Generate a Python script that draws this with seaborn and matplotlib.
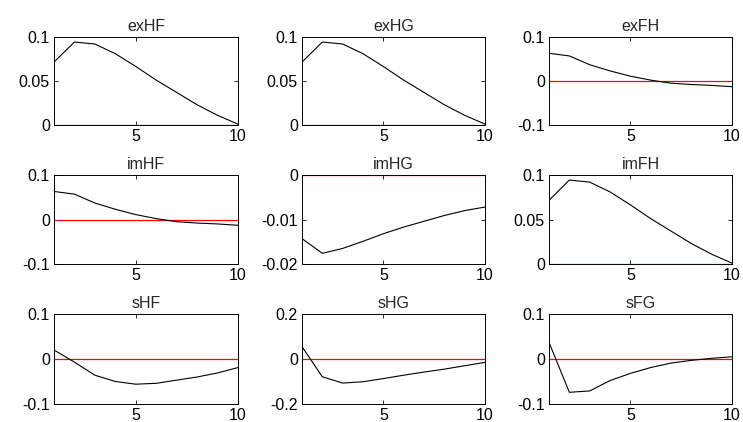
import matplotlib
matplotlib.use("Agg")
import matplotlib.pyplot as plt
import numpy as np
import pandas as pd
import seaborn as sns

# impulse responses, horizons 1..10
steps = list(range(1, 11))

exHF = [0.0715, 0.0943, 0.092, 0.081, 0.0665, 0.051, 0.037, 0.023, 0.011, 0.001]
exHG = [0.0715, 0.0943, 0.092, 0.081, 0.0665, 0.051, 0.037, 0.023, 0.011, 0.001]
exFH = [0.063, 0.057, 0.037, 0.023, 0.011, 0.002, -0.005, -0.008, -0.010, -0.013]
imHF = [0.063, 0.057, 0.037, 0.023, 0.011, 0.002, -0.005, -0.008, -0.010, -0.013]
imHG = [-0.0143, -0.0176, -0.0165, -0.0149, -0.0132, -0.0117, -0.0104, -0.0091, -0.0080, -0.0072]
imFH = [0.0715, 0.0943, 0.092, 0.081, 0.0665, 0.051, 0.037, 0.023, 0.011, 0.001]
sHF = [0.020, -0.007, -0.036, -0.050, -0.056, -0.054, -0.047, -0.040, -0.031, -0.019]
sHG = [0.055, -0.079, -0.107, -0.101, -0.087, -0.072, -0.058, -0.045, -0.030, -0.015]
sFG = [0.037, -0.074, -0.071, -0.048, -0.032, -0.019, -0.009, -0.003, 0.0015, 0.005]
zero = [0.0] * len(steps)

titles = ["exHF", "exHG", "exFH", "imHF", "imHG", "imFH", "sHF", "sHG", "sFG"]
series = [exHF, exHG, exFH, imHF, imHG, imFH, sHF, sHG, sFG]
ylims = [(0, 0.1), (0, 0.1), (-0.1, 0.1),
         (-0.1, 0.1), (-0.02, 0), (0, 0.1),
         (-0.1, 0.1), (-0.2, 0.2), (-0.1, 0.1)]
yticks = [[0, 0.05, 0.1], [0, 0.05, 0.1], [-0.1, 0, 0.1],
          [-0.1, 0, 0.1], [-0.02, -0.01, 0], [0, 0.05, 0.1],
          [-0.1, 0, 0.1], [-0.2, 0, 0.2], [-0.1, 0, 0.1]]
yticklabels = [["0", "0.05", "0.1"], ["0", "0.05", "0.1"], ["-0.1", "0", "0.1"],
               ["-0.1", "0", "0.1"], ["-0.02", "-0.01", "0"], ["0", "0.05", "0.1"],
               ["-0.1", "0", "0.1"], ["-0.2", "0", "0.2"], ["-0.1", "0", "0.1"]]

sns.set_theme(style="white")
plt.rcParams["font.family"] = ["Liberation Sans", "DejaVu Sans"]
plt.rcParams["xtick.direction"] = "in"
plt.rcParams["ytick.direction"] = "in"

W, H = 743, 422
fig = plt.figure(figsize=(W / 100, H / 100), dpi=100)

col_lr = [(54, 238), (302, 485), (549, 732)]
row_tb = [(37, 125), (175, 264), (314, 404)]

for i, (title, vals) in enumerate(zip(titles, series)):
    r, c = divmod(i, 3)
    l, rr = col_lr[c]
    t, b = row_tb[r]
    ax = fig.add_axes([l / W, 1 - b / H, (rr - l) / W, (b - t) / H])

    sns.lineplot(x=steps, y=zero, ax=ax, color="red", linewidth=0.9)
    sns.lineplot(x=steps, y=vals, ax=ax, color="black", linewidth=0.8)

    ax.set_xlim(1, 10)
    ax.set_ylim(*ylims[i])
    ax.set_xticks([5, 10])
    ax.set_yticks(yticks[i])
    ax.set_yticklabels(yticklabels[i])
    ax.set_title(title, fontsize=11.5, pad=4)
    ax.tick_params(axis="both", labelsize=11.5, length=3, width=0.6,
                   bottom=True, left=True, top=True, right=True,
                   pad=3, colors="black")
    for s in ax.spines.values():
        s.set_color("black")
        s.set_linewidth(0.7)

fig.savefig("out.png", dpi=100)
